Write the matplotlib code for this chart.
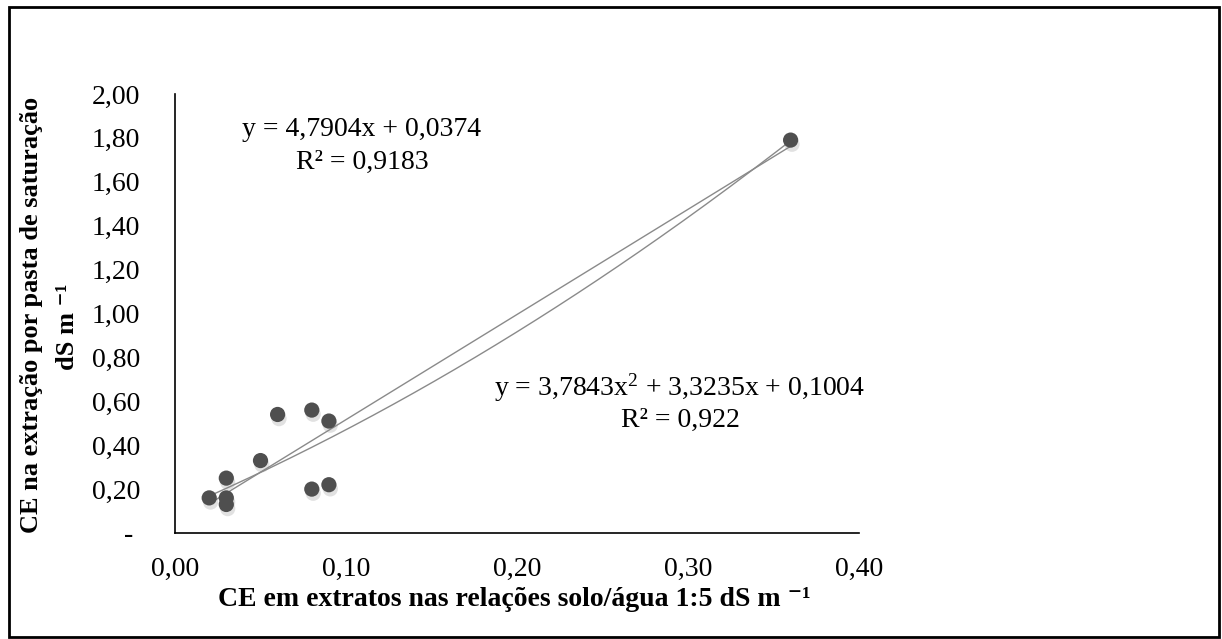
import numpy as np
import matplotlib
matplotlib.use("Agg")
import matplotlib.pyplot as plt
import matplotlib.patheffects as pe
from matplotlib.patches import Rectangle

# dados
ce_15 = [0.02, 0.03, 0.03, 0.03, 0.05, 0.06, 0.08, 0.09, 0.08, 0.09, 0.36]
ce_pasta = [0.16, 0.25, 0.16, 0.13, 0.33, 0.54, 0.56, 0.51, 0.20, 0.22, 1.79]

# coeficientes das linhas de tendencia (Excel)
coef_lin = [4.7904, 0.0374]
coef_pol = [3.7843, 3.3235, 0.1004]
eq_lin = ["y = 4,7904x + 0,0374", "R² = 0,9183"]
eq_pol = ["y = 3,7843x$^2$ + 3,3235x + 0,1004", "R² = 0,922"]

y_ticks = [0, 0.2, 0.4, 0.6, 0.8, 1.0, 1.2, 1.4, 1.6, 1.8, 2.0]
x_ticks = [0, 0.1, 0.2, 0.3, 0.4]

plt.rcParams['font.family'] = ['Liberation Serif', 'DejaVu Serif']
plt.rcParams['mathtext.fontset'] = 'custom'
plt.rcParams['mathtext.rm'] = 'Liberation Serif'
plt.rcParams['mathtext.it'] = 'Liberation Serif'
plt.rcParams['mathtext.bf'] = 'Liberation Serif:bold'

W, H = 1222, 639
fig = plt.figure(figsize=(W / 100, H / 100), dpi=100)
ax = fig.add_axes([175 / W, (H - 533) / H, 684 / W, 439 / H])

# moldura externa
fig.patches.append(Rectangle((9 / W, 2 / H), 1210 / W, 630 / H, transform=fig.transFigure,
                             fill=False, edgecolor='black', linewidth=2))

# linhas de tendencia
xs = np.linspace(min(ce_15), max(ce_15), 200)
ax.plot(xs, np.polyval(coef_lin, xs), color='#8a8a8a', linewidth=1.0, zorder=2)
ax.plot(xs, np.polyval(coef_pol, xs), color='#8a8a8a', linewidth=1.0, zorder=2)

# pontos com sombra
ax.scatter(ce_15, ce_pasta, s=120, color='#4f4f4f', edgecolors='none', zorder=3,
           path_effects=[pe.SimplePatchShadow(offset=(1, -3), alpha=0.25, shadow_rgbFace='#888888'),
                         pe.Normal()])

ax.set_xlim(0, 0.4)
ax.set_ylim(0, 2.0)
ax.set_xticks(x_ticks)
ax.set_xticklabels([f"{v:.2f}".replace('.', ',') for v in x_ticks])
ax.set_yticks(y_ticks)
ax.set_yticklabels(["- " if v == 0 else f"{v:.2f}".replace('.', ',') for v in y_ticks])
ax.tick_params(axis='both', length=0, labelsize=20, colors='black')
ax.tick_params(axis='x', pad=17)
ax.tick_params(axis='y', pad=25)
for s in ['top', 'right']:
    ax.spines[s].set_visible(False)
for s in ['left', 'bottom']:
    ax.spines[s].set_linewidth(1.2)

# equacoes
fs_eq = 20
ax.text((362 - 175) / 684, (533 - 130) / 439, eq_lin[0], transform=ax.transAxes,
        ha='center', va='center', fontsize=fs_eq)
ax.text((362 - 175) / 684, (533 - 162) / 439, eq_lin[1], transform=ax.transAxes,
        ha='center', va='center', fontsize=fs_eq)
ax.text((680 - 175) / 684, (533 - 388) / 439, eq_pol[0], transform=ax.transAxes,
        ha='center', va='center', fontsize=fs_eq)
ax.text((680 - 175) / 684, (533 - 420) / 439, eq_pol[1], transform=ax.transAxes,
        ha='center', va='center', fontsize=fs_eq)

# rotulos dos eixos
fig.text(514 / W, 1 - 600 / H, "CE em extratos nas relações solo/água 1:5 dS m ⁻¹",
         ha='center', va='center', fontsize=20, fontweight='bold')
fig.text(32 / W, 1 - 315 / H, "CE na extração por pasta de saturação", rotation=90,
         ha='center', va='center', fontsize=19, fontweight='bold')
fig.text(68 / W, 1 - 327 / H, "dS m ⁻¹", rotation=90,
         ha='center', va='center', fontsize=19, fontweight='bold')

fig.savefig("out.png", dpi=100)
